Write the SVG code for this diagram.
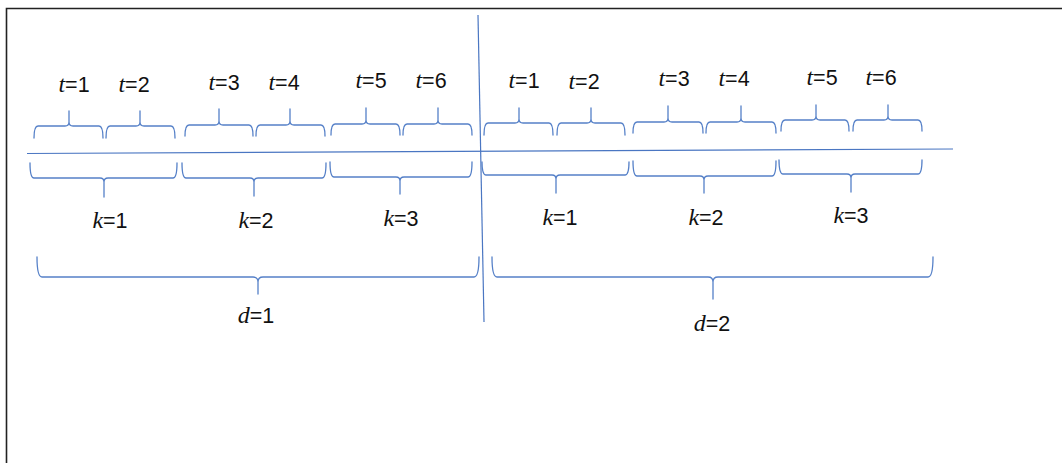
<svg xmlns="http://www.w3.org/2000/svg" width="1062" height="463" viewBox="0 0 1062 463">
  <style>
    .frame { fill: none; stroke: #222; stroke-width: 1.6; }
    .axis { fill: none; stroke: #4a76c2; stroke-width: 1.2; }
    .brace { fill: none; stroke: #5580c8; stroke-width: 1.3; stroke-linecap: round; stroke-linejoin: round; }
    .lbl { font-family: "Liberation Sans", Arial, sans-serif; font-size: 21.5px; fill: #111; text-anchor: middle; }
    .var { font-family: "Liberation Serif", "Times New Roman", serif; font-style: italic; font-size: 24px; }
  </style>

  <rect width="1062" height="463" fill="#fff"/>
  <!-- page frame: only the left and top edges are visible -->
  <path class="frame" d="M6.5 463 V8.5 H1062"/>

  <!-- dividing axes -->
  <g id="connectors">
    <path class="axis" d="M27 153.5 L953 149"/>
    <path class="axis" d="M478 15 L484 322"/>
  </g>

  <!-- period braces (t), opening downward towards the axis -->
  <g id="periods-d1">
    <path class="brace" d="M34 138 Q34 126 38 126 H65 Q69 126 69 122 V111 M69 122 Q69 126 73 126 H99 Q103 126 103 138"/>
    <text class="lbl" x="74" y="92"><tspan class="var">t</tspan>=1</text>
    <path class="brace" d="M106 138 Q106 126 110 126 H136 Q140 126 140 122 V111 M140 122 Q140 126 144 126 H171 Q175 126 175 138"/>
    <text class="lbl" x="134" y="92"><tspan class="var">t</tspan>=2</text>
    <path class="brace" d="M185 136 Q185 125 189 125 H215 Q219 125 219 121 V109 M219 121 Q219 125 223 125 H249 Q253 125 253 136"/>
    <text class="lbl" x="224" y="90"><tspan class="var">t</tspan>=3</text>
    <path class="brace" d="M256 136 Q256 125 260 125 H286 Q290 125 290 121 V109 M290 121 Q290 125 294 125 H321 Q325 125 325 136"/>
    <text class="lbl" x="284" y="90"><tspan class="var">t</tspan>=4</text>
    <path class="brace" d="M331 135 Q331 124 335 124 H362 Q366 124 366 120 V108 M366 120 Q366 124 370 124 H396 Q400 124 400 135"/>
    <text class="lbl" x="371" y="88"><tspan class="var">t</tspan>=5</text>
    <path class="brace" d="M403 135 Q403 124 407 124 H434 Q438 124 438 120 V108 M438 120 Q438 124 442 124 H468 Q472 124 472 135"/>
    <text class="lbl" x="431" y="88"><tspan class="var">t</tspan>=6</text>
  </g>

  <g id="periods-d2">
    <path class="brace" d="M484 135 Q484 123 488 123 H515 Q519 123 519 119 V108 M519 119 Q519 123 523 123 H549 Q553 123 553 135"/>
    <text class="lbl" x="524" y="88"><tspan class="var">t</tspan>=1</text>
    <path class="brace" d="M557 135 Q557 123 561 123 H587 Q591 123 591 119 V108 M591 119 Q591 123 595 123 H621 Q625 123 625 135"/>
    <text class="lbl" x="584" y="89"><tspan class="var">t</tspan>=2</text>
    <path class="brace" d="M633 133 Q633 122 637 122 H664 Q668 122 668 118 V106 M668 118 Q668 122 672 122 H699 Q703 122 703 133"/>
    <text class="lbl" x="674" y="86"><tspan class="var">t</tspan>=3</text>
    <path class="brace" d="M706 133 Q706 122 710 122 H737 Q741 122 741 118 V106 M741 118 Q741 122 745 122 H772 Q776 122 776 133"/>
    <text class="lbl" x="734" y="86"><tspan class="var">t</tspan>=4</text>
    <path class="brace" d="M781 131 Q781 120 785 120 H812 Q816 120 816 116 V105 M816 116 Q816 120 820 120 H845 Q849 120 849 131"/>
    <text class="lbl" x="822" y="85"><tspan class="var">t</tspan>=5</text>
    <path class="brace" d="M853 131 Q853 120 857 120 H884 Q888 120 888 116 V105 M888 116 Q888 120 892 120 H918 Q922 120 922 131"/>
    <text class="lbl" x="881" y="85"><tspan class="var">t</tspan>=6</text>
  </g>

  <!-- group braces (k), opening upward towards the axis -->
  <g id="groups-d1">
    <path class="brace" d="M30 163 Q30 178 34 178 H100 Q104 178 104 182 V197 M104 182 Q104 178 108 178 H173 Q177 178 177 163"/>
    <text class="lbl" x="110" y="228"><tspan class="var">k</tspan>=1</text>
    <path class="brace" d="M182 163 Q182 178 186 178 H250 Q254 178 254 182 V196 M254 182 Q254 178 258 178 H322 Q326 178 326 163"/>
    <text class="lbl" x="256" y="228"><tspan class="var">k</tspan>=2</text>
    <path class="brace" d="M330 162 Q330 177 334 177 H396 Q400 177 400 181 V194 M400 181 Q400 177 404 177 H468 Q472 177 472 162"/>
    <text class="lbl" x="401" y="226"><tspan class="var">k</tspan>=3</text>
  </g>

  <g id="groups-d2">
    <path class="brace" d="M482 162 Q482 175 486 175 H552 Q556 175 556 179 V193 M556 179 Q556 175 560 175 H625 Q629 175 629 162"/>
    <text class="lbl" x="560" y="225"><tspan class="var">k</tspan>=1</text>
    <path class="brace" d="M633 161 Q633 176 637 176 H700 Q704 176 704 180 V193 M704 180 Q704 176 708 176 H772 Q776 176 776 161"/>
    <text class="lbl" x="706" y="225"><tspan class="var">k</tspan>=2</text>
    <path class="brace" d="M779 160 Q779 174 783 174 H847 Q851 174 851 178 V192 M851 178 Q851 174 855 174 H918 Q922 174 922 160"/>
    <text class="lbl" x="851" y="223"><tspan class="var">k</tspan>=3</text>
  </g>

  <!-- day braces (d) -->
  <g id="day-1">
    <path class="brace" d="M37 257 Q37 277 42 277 H253 Q258 277 258 282 V294 M258 282 Q258 277 263 277 H474 Q479 277 479 257"/>
    <text class="lbl" x="256" y="323"><tspan class="var">d</tspan>=1</text>
  </g>

  <g id="day-2">
    <path class="brace" d="M492 257 Q492 277 497 277 H708 Q713 277 713 282 V299 M713 282 Q713 277 718 277 H928 Q933 277 933 257"/>
    <text class="lbl" x="712" y="331"><tspan class="var">d</tspan>=2</text>
  </g>
</svg>
